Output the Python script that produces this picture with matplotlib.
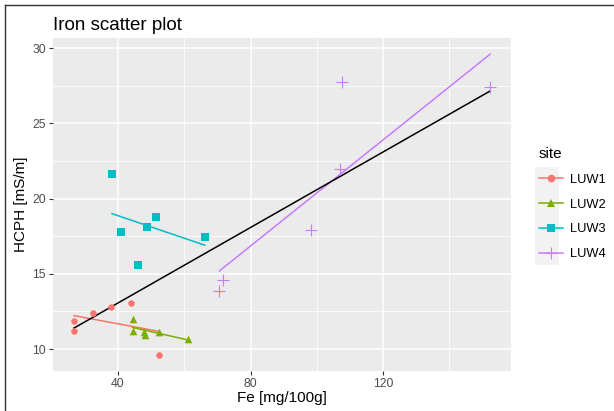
"""
Iron scatter plot: HCPH vs Fe by site, with lm fits
"""

import matplotlib.pyplot as plt
import numpy as np
from matplotlib.lines import Line2D
from matplotlib.patches import Rectangle

luw1_fe = [26.7, 26.7, 32.5, 38.0, 43.9, 52.4]
luw1_hcph = [11.84, 11.2, 12.37, 12.81, 13.08, 9.58]

luw2_fe = [44.4, 44.4, 47.9, 48.2, 52.4, 61.0]
luw2_hcph = [11.97, 11.2, 11.1, 10.95, 11.15, 10.66]

luw3_fe = [38.2, 40.9, 45.9, 48.8, 51.4, 66.2]
luw3_hcph = [21.64, 17.8, 15.58, 18.09, 18.76, 17.47]

luw4_fe = [70.6, 71.6, 98.2, 107.0, 107.5, 152.3]
luw4_hcph = [13.86, 14.59, 17.91, 21.95, 27.77, 27.44]

sites = ["LUW1", "LUW2", "LUW3", "LUW4"]
colors = ["#F8766D", "#7CAE00", "#00BFC4", "#C77CFF"]
markers = ["o", "^", "s", "+"]
sizes = [22, 30, 26, 70]

data = {
    "LUW1": (luw1_fe, luw1_hcph),
    "LUW2": (luw2_fe, luw2_hcph),
    "LUW3": (luw3_fe, luw3_hcph),
    "LUW4": (luw4_fe, luw4_hcph),
}

W, H = 614, 411


def lm_line(ax, x, y, color):
    x = np.asarray(x)
    y = np.asarray(y)
    b, a = np.polyfit(x, y, 1)
    xs = np.array([x.min(), x.max()])
    ax.plot(xs, a + b * xs, color=color, lw=1.1, zorder=3)


def main():
    fig = plt.figure(figsize=(W / 100, H / 100), dpi=100)
    ax = fig.add_axes([53 / W, 1 - 370.7 / H, 458 / W, 332.2 / H])
    ax.set_facecolor("#EBEBEB")

    all_x, all_y = [], []
    for site, col, mk, s in zip(sites, colors, markers, sizes):
        x, y = data[site]
        all_x += x
        all_y += y
        if mk == "+":
            ax.scatter(x, y, marker=mk, s=s, color=col, linewidths=0.8, zorder=4)
        else:
            ax.scatter(x, y, marker=mk, s=s, color=col, linewidths=0, zorder=4)
        lm_line(ax, x, y, col)
    lm_line(ax, all_x, all_y, "black")

    ax.set_xlim(20.4, 158.6)
    ax.set_ylim(8.56, 30.64)
    ax.set_xticks([40, 80, 120])
    ax.set_yticks([10, 15, 20, 25, 30])
    ax.set_xticks([60, 100, 140], minor=True)
    ax.set_yticks([12.5, 17.5, 22.5, 27.5], minor=True)
    ax.grid(which="major", color="white", lw=1.1, zorder=0)
    ax.grid(which="minor", color="white", lw=0.55, zorder=0)
    ax.set_axisbelow(True)
    for sp in ax.spines.values():
        sp.set_visible(False)
    ax.tick_params(which="major", length=3, width=0.8, color="#333333",
                   labelcolor="#4D4D4D", labelsize=8.8, pad=2)
    ax.tick_params(which="minor", length=0)

    ax.set_xlabel("Fe [mg/100g]", fontsize=11, labelpad=1)
    ax.set_ylabel("HCPH [mS/m]", fontsize=11, labelpad=3)
    ax.set_title("Iron scatter plot", fontsize=13.5, loc="left", pad=6, x=0)

    # legend key background
    fig.add_artist(Rectangle((535 / W, 1 - 265 / H), 24 / W, 98.3 / H,
                             transform=fig.transFigure, facecolor="#F2F2F2",
                             edgecolor="none", zorder=0))

    handles = []
    for col, mk in zip(colors, markers):
        ms = 8 if mk == "+" else 5.5
        handles.append(Line2D([0], [0], color=col, marker=mk, markersize=ms,
                              lw=1.1, markeredgewidth=0.8 if mk == "+" else 0))
    fig.legend(handles, sites, title="site", loc="upper left",
               bbox_to_anchor=(527 / W, 1 - 135 / H), frameon=False,
               fontsize=9.3, title_fontsize=11, handlelength=1.86,
               labelspacing=1.0, handletextpad=0.6, alignment="left")

    fig.add_artist(Line2D([5 / W, 5 / W], [0, 1 - 5 / H], color="#333333", lw=1))
    fig.add_artist(Line2D([5 / W, 1], [1 - 5 / H, 1 - 5 / H], color="#333333", lw=1))

    fig.savefig("out.png", dpi=100)
    plt.close(fig)


if __name__ == "__main__":
    plt.rcParams["font.family"] = ["Liberation Sans", "DejaVu Sans"]
    main()
